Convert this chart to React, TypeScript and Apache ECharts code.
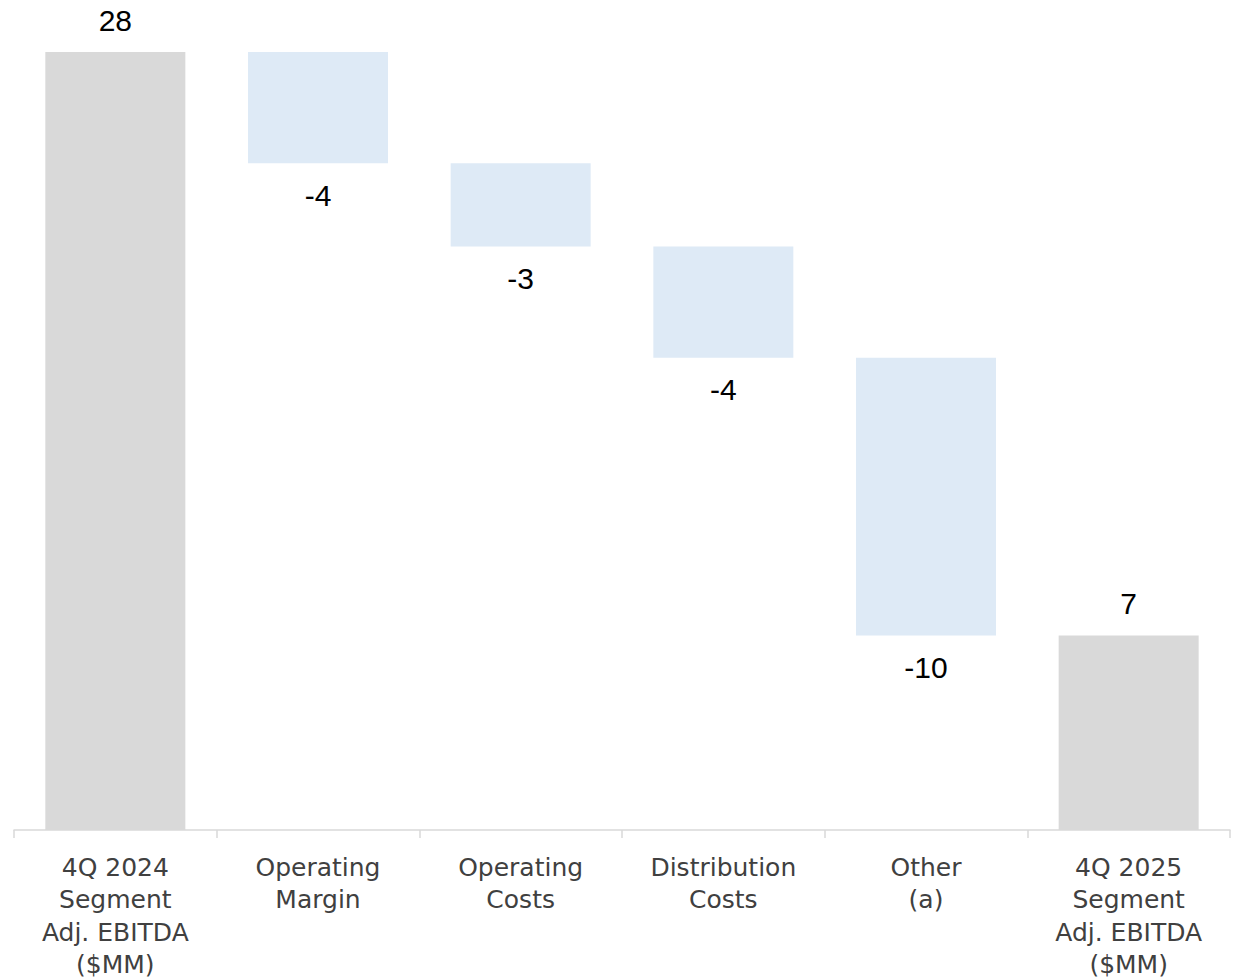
import React, { useEffect, useRef } from "react";
import * as echarts from "echarts";

const categories = [
  "4Q 2024\nSegment\nAdj. EBITDA\n($MM)",
  "Operating\nMargin",
  "Operating\nCosts",
  "Distribution\nCosts",
  "Other\n(a)",
  "4Q 2025\nSegment\nAdj. EBITDA\n($MM)",
];
const values = [28, -4, -3, -4, -10, 7];
const isTotal = [true, false, false, false, false, true];

const TOTAL_COLOR = "#d9d9d9";
const DELTA_COLOR = "#deeaf6";

export default function App() {
  const ref = useRef<HTMLDivElement>(null);
  useEffect(() => {
    if (!ref.current) return;
    const chart = echarts.init(ref.current, null, { renderer: "svg" });
    const base: number[] = [];
    const height: any[] = [];
    let running = 0;
    values.forEach((v, i) => {
      if (isTotal[i]) {
        base.push(0);
        running = v;
        height.push({
          value: v,
          itemStyle: { color: TOTAL_COLOR },
          label: { show: true, position: "top", distance: 17 },
        });
      } else {
        const next = running + v;
        base.push(Math.min(running, next));
        height.push({
          value: Math.abs(v),
          itemStyle: { color: DELTA_COLOR },
          label: { show: true, position: "bottom", distance: 17 },
        });
        running = next;
      }
    });
    chart.setOption({
      animation: false,
      grid: { left: 14, right: 6, top: 52, bottom: 149, containLabel: false, outerBoundsMode: "none" },
      xAxis: {
        type: "category",
        data: categories,
        axisLine: { show: true, lineStyle: { color: "#d9d9d9", width: 1.5 } },
        axisTick: { show: true, length: 8, lineStyle: { color: "#d9d9d9", width: 1.5 } },
        axisLabel: {
          interval: 0,
          margin: 21,
          color: "#404040",
          fontSize: 25,
          lineHeight: 32.5,
          fontFamily: "DejaVu Sans, sans-serif",
        },
      },
      yAxis: { type: "value", min: 0, max: 28, show: false, splitLine: { show: false } },
      series: [
        {
          type: "bar",
          stack: "w",
          data: base,
          itemStyle: { color: "transparent" },
          barWidth: 140,
          silent: true,
        },
        {
          type: "bar",
          stack: "w",
          data: height,
          barWidth: 140,
          label: {
            show: true,
            color: "#000",
            fontSize: 30,
            fontFamily: "Liberation Sans, Arial, sans-serif",
            formatter: (p: any) => String(values[p.dataIndex]),
          },
        },
      ],
    });
    return () => chart.dispose();
  }, []);
  return (
    <div
      ref={ref}
      style={{ position: "fixed", left: 0, top: 0, width: 1236, height: 979, background: "#fff" }}
    />
  );
}
